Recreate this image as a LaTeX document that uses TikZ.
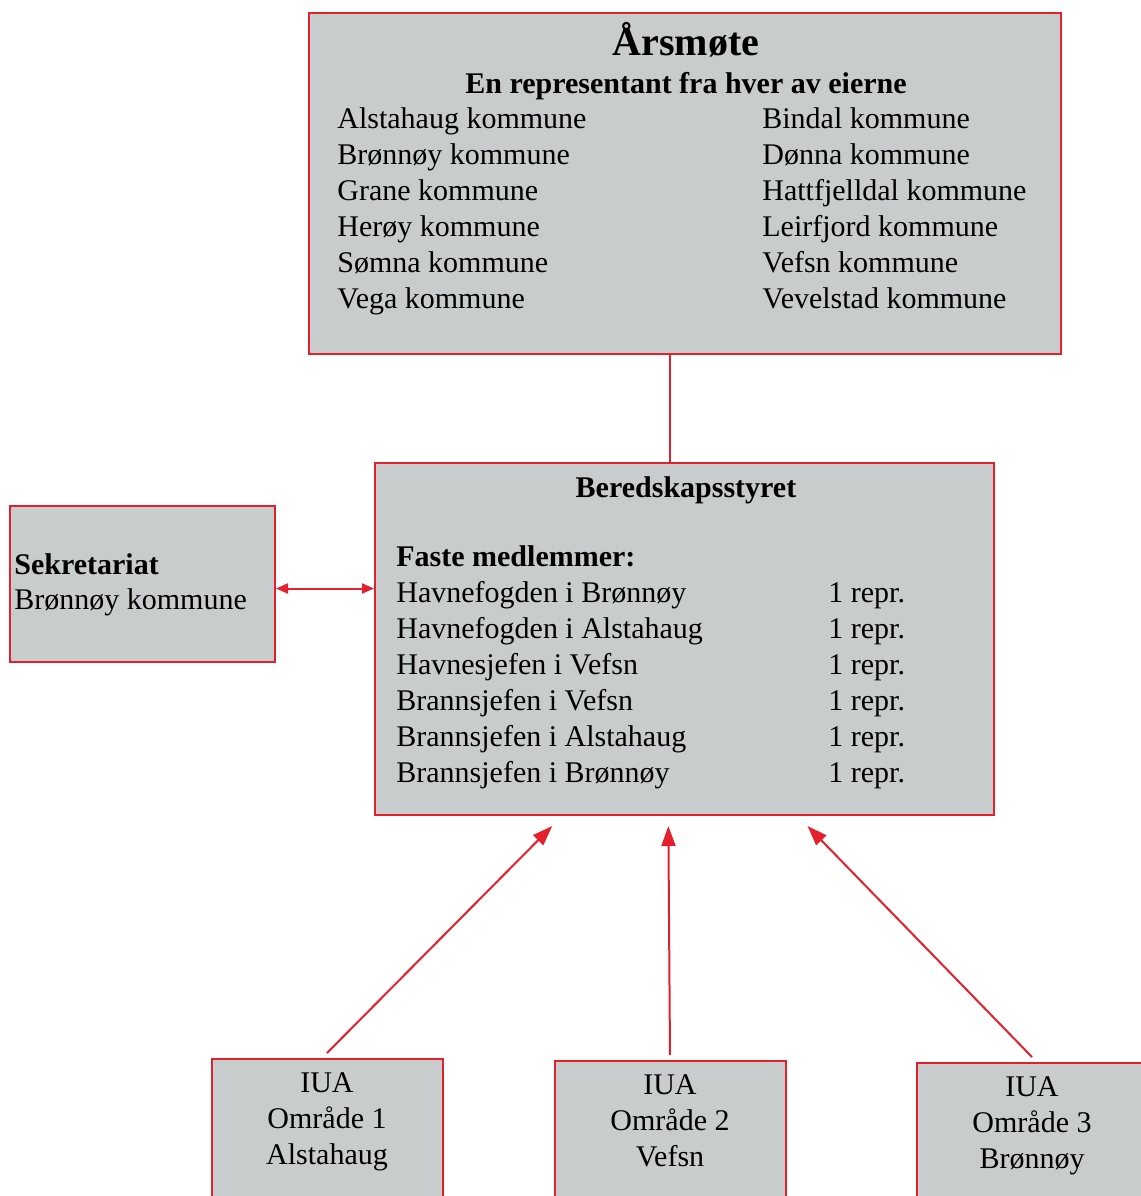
\documentclass[tikz,border=0pt]{standalone}
\usepackage{fontspec}
\setmainfont{Liberation Serif}
\usetikzlibrary{positioning,calc,matrix,fit,arrows.meta}
\definecolor{boxred}{RGB}{228,32,44}
\definecolor{boxgray}{RGB}{200,204,204}
\tikzset{
box/.style={
  rectangle,
  draw=boxred,
  fill=boxgray,
  line width=1pt,
  inner sep=0pt
  },
table/.style={
  matrix of nodes,
  inner sep=0pt,
  row sep=0pt,
  column sep=0pt,
  nodes={rectangle,inner sep=0pt,text width=150pt,align=flush left},
  text depth=4.5pt,
  text height=13.5pt,
  nodes in empty cells,
  anchor=north west
  },
label/.style={inner sep=0pt},
link/.style={draw=boxred,line width=1pt},
arrow/.style={link,-{Triangle[length=10pt,width=7pt]}},
%title/.style={font=\fontsize{20}{24}\selectfont\bfseries}
}

\begin{document}
\begin{tikzpicture}[x=0.5pt,y=-0.5pt,font=\fontsize{15}{18}\selectfont]
    \useasboundingbox (0,0) rectangle (1141,1196);
    \clip (0,0) rectangle (1141,1196);

    \node [box, fit={(309,13) (1061,354)}] (arsmote) {};
    \node [label, anchor=base] (arsmote-title) at (686,55) {\fontsize{20}{24}\selectfont\bfseries Årsmøte};
    \node [label, anchor=base] (arsmote-sub) at (686,93) {\bfseries En representant fra hver av eierne};
    \matrix [table, column 1/.style={nodes={text width=212.5pt}}] (kom) at (337,101)
    {
        Alstahaug kommune & Bindal kommune \\
        Brønnøy kommune & Dønna kommune \\
        Grane kommune & Hattfjelldal kommune \\
        Herøy kommune & Leirfjord kommune \\
        Sømna kommune & Vefsn kommune \\
        Vega kommune & Vevelstad kommune \\
    };

    \node [box, fit={(375,463) (994,815)}] (styret) {};
    \node [label, anchor=base] (styret-title) at (686,497) {\bfseries Beredskapsstyret};
    \matrix [table, column 1/.style={nodes={text width=216pt}}] (faste) at (396,539)
    {
        \textbf{Faste medlemmer:} & \\
        Havnefogden i Brønnøy & 1 repr. \\
        Havnefogden i Alstahaug & 1 repr. \\
        Havnesjefen i Vefsn & 1 repr. \\
        Brannsjefen i Vefsn & 1 repr. \\
        Brannsjefen i Alstahaug & 1 repr. \\
        Brannsjefen i Brønnøy & 1 repr. \\
    };

    \node [box, fit={(10,506) (275,662)}] (sekr) {};
    \node [label, anchor=base west] (sekr-title) at (14,574) {\bfseries Sekretariat};
    \node [label, anchor=base west] (sekr-kom) at (14,609) {Brønnøy kommune};

    \draw [link] ([xshift=-7.5pt]arsmote.south) -- ([xshift=-7.5pt]arsmote.south |- styret.north);
    \draw [link, {Triangle[length=6pt,width=5pt]}-{Triangle[length=6pt,width=5pt]}]
        ([yshift=-2.25pt]sekr.east) -- ([yshift=-2.25pt]sekr.east -| styret.west);

    \foreach \i/\x/\y/\f/\place in {1/327/1058/.287/Alstahaug, 2/670/1060/.474/Vefsn, 3/1032/1062/.698/Brønnøy}
    {
        \node [box, anchor=north, minimum width=115.5pt, minimum height=100pt] (iua\i) at (\x,\y) {};
        \node [anchor=north, align=flush center] (iua\i-text) at (\x,\y+8) {IUA\\Område \i\\\place};
        \draw [arrow] ([yshift=2.5pt]iua\i.north) -- ($(styret.south west)!\f!(styret.south east)+(0,10)$);
    }

\end{tikzpicture}
\end{document}
